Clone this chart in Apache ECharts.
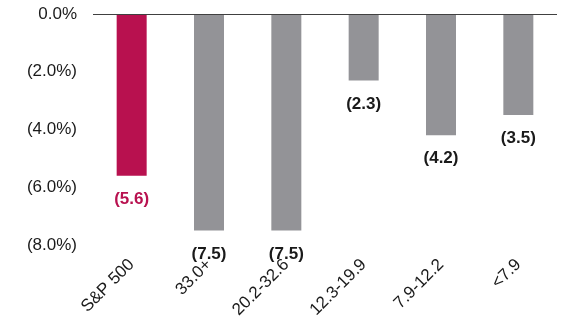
<!DOCTYPE html>
<html>
<head>
<meta charset="utf-8">
<script src="https://cdn.jsdelivr.net/npm/echarts@6/dist/echarts.min.js"></script>
<style>html,body{margin:0;padding:0;background:#fff}#c{width:562px;height:328px}</style>
</head>
<body>
<div id="c"></div>
<script>
const categories = ['S&P 500', '33.0+', '20.2-32.6', '12.3-19.9', '7.9-12.2', '<7.9'];
const values = [-5.6, -7.5, -7.5, -2.3, -4.2, -3.5];
const yTicks = [0, -2, -4, -6, -8];
const barColors = ['#B8114F', '#939397', '#939397', '#939397', '#939397', '#939397'];
const labelColors = ['#B8114F', '#1a1a1a', '#1a1a1a', '#1a1a1a', '#1a1a1a', '#1a1a1a'];

const font = '"Liberation Sans", Arial, sans-serif';
const chart = echarts.init(document.getElementById('c'), null, {renderer: 'canvas'});
chart.setOption({
  animation: false,
  grid: {left: 93, right: 5, top: 14, bottom: 83, containLabel: false},
  xAxis: {
    type: 'category',
    data: categories,
    position: 'bottom',
    axisLine: {show: false, onZero: false},
    axisTick: {show: false},
    axisLabel: {rotate: 45, margin: 17, fontSize: 17, color: '#1a1a1a', fontFamily: font, interval: 0}
  },
  yAxis: {
    type: 'value',
    min: -8, max: 0, interval: 2,
    axisLine: {show: false},
    axisTick: {show: false},
    splitLine: {show: false},
    axisLabel: {
      margin: 16, fontSize: 17, color: '#1a1a1a', fontFamily: font,
      formatter: v => v === 0 ? '0.0%' : '(' + Math.abs(v).toFixed(1) + '%)'
    }
  },
  series: [{
    type: 'bar',
    barWidth: 30,
    data: values.map((v, i) => ({
      value: v,
      itemStyle: {color: barColors[i]},
      label: {color: labelColors[i]}
    })),
    label: {
      show: true, position: 'bottom', distance: 15,
      fontSize: 17, fontWeight: 'bold', fontFamily: font,
      formatter: p => '(' + Math.abs(p.value).toFixed(1) + ')'
    },
    markLine: {
      silent: true, symbol: 'none',
      label: {show: false},
      lineStyle: {color: '#404040', width: 1, type: 'solid'},
      data: [{yAxis: 0}]
    }
  }]
});
</script>
</body>
</html>
